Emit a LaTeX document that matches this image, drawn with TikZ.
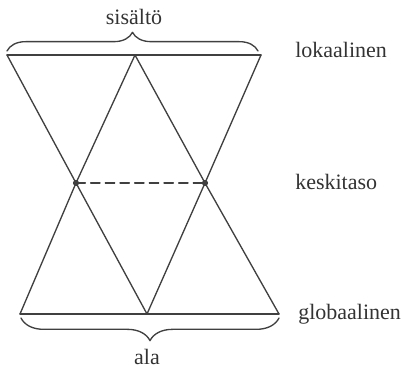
\documentclass[tikz,border=0pt]{standalone}
\usepackage{fontspec}
\setmainfont{Liberation Serif}
\usetikzlibrary{decorations.pathreplacing}
\begin{document}
\begin{tikzpicture}[
  x=0.75pt,
  y=-0.75pt,
  line cap=round,
  line join=round,
  reuna/.style={line width=1pt, black!75},
  aalto/.style={line width=1pt, black!75, decorate,
    decoration={brace, amplitude=#1}},
  teksti/.style={font=\fontsize{16.5}{19}\selectfont, text=black!80, inner sep=0pt}
]
  \useasboundingbox (0,0) rectangle (404,367);

  % Yläreuna
  \coordinate (A) at (7,55);
  \coordinate (B) at (135,55);
  \coordinate (C) at (261,55);

  % Alareuna
  \coordinate (A1) at (20,314);
  \coordinate (B1) at (147,314);
  \coordinate (C1) at (279,314);

  % Keskitason pisteet
  \coordinate (M) at (76,183);
  \coordinate (N) at (205,183);

  % Reunat ja sivut
  \draw[reuna] (A) -- (C);
  \draw[reuna] (A1) -- (C1);

  \draw[reuna] (A) -- (M) -- (B1);
  \draw[reuna] (B) -- (M) -- (A1);
  \draw[reuna] (B) -- (N) -- (C1);
  \draw[reuna] (C) -- (N) -- (B1);

  % Keskitaso
  \draw[reuna, dash pattern=on 7pt off 4pt] (M) -- (N);
  \fill[black!75] (M) circle[radius=2.3pt];
  \fill[black!75] (N) circle[radius=2.3pt];

  % Aaltosulkeet
  \draw[aalto=14pt] (7,51) -- (258,51);
  \draw[aalto=17pt] (279,318) -- (21,318);

  % Tekstit
  \node[teksti, anchor=base] (sisalto) at (134,25) {sisältö};
  \node[teksti, anchor=base] (ala) at (147,364) {ala};
  \node[teksti, anchor=base west] (lokaalinen) at (295,58) {lokaalinen};
  \node[teksti, anchor=base west] (keskitaso) at (295,190) {keskitaso};
  \node[teksti, anchor=base west] (globaalinen) at (298,320) {globaalinen};
\end{tikzpicture}
\end{document}
